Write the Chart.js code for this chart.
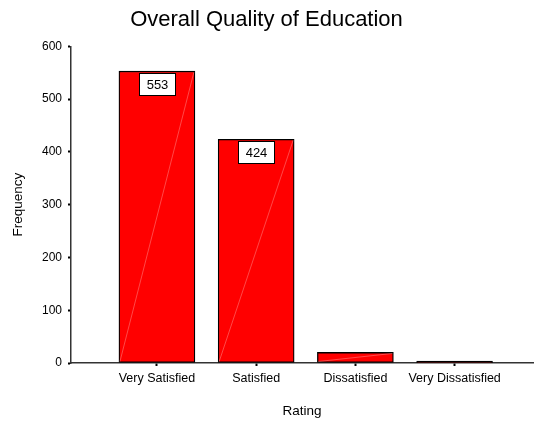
<!DOCTYPE html>
<html>
<head>
<meta charset="utf-8">
<script src="https://cdn.jsdelivr.net/npm/chart.js@4"></script>
<style>
  html, body { margin: 0; padding: 0; background: #fff; }
  #wrap { width: 535px; height: 428px; }
</style>
</head>
<body>
<div id="wrap"><canvas id="barChart"></canvas></div>
<script>
// data
const categories = ['Very Satisfied', 'Satisfied', 'Dissatisfied', 'Very Dissatisfied'];
const frequencies = [553, 424, 20, 2];
const labelledBars = [0, 1];   // bars that get a value box
const yTicks = [0, 100, 200, 300, 400, 500, 600];

const FONT = 'Arial, "Liberation Sans", sans-serif';

// white value boxes + the faint diagonal SPSS leaves in each bar
const barDecor = {
  id: 'barDecor',
  afterDatasetsDraw(chart) {
    const ctx = chart.ctx;
    const meta = chart.getDatasetMeta(0);
    ctx.save();
    meta.data.forEach((bar, i) => {
      const left = bar.x - bar.width / 2;
      const right = bar.x + bar.width / 2;
      if (bar.base - bar.y > 4) {
        ctx.strokeStyle = 'rgba(255,205,205,0.7)';
        ctx.lineWidth = 0.5;
        ctx.beginPath();
        ctx.moveTo(left + 1, bar.base - 1);
        ctx.lineTo(right - 1, bar.y + 1);
        ctx.stroke();
      } else {
        // very short bar: only its outline shows
        ctx.fillStyle = '#000';
        ctx.fillRect(left, bar.y - 1, bar.width, bar.base - bar.y + 1);
      }
      if (labelledBars.includes(i)) {
        const w = 36, h = 22;
        const bx = Math.round(bar.x - w / 2) + 0.5;
        const by = Math.round(bar.y + 2) + 0.5;
        ctx.fillStyle = '#fff';
        ctx.fillRect(bx, by, w, h);
        ctx.strokeStyle = '#000';
        ctx.lineWidth = 1;
        ctx.strokeRect(bx, by, w, h);
        ctx.fillStyle = '#000';
        ctx.font = '13px ' + FONT;
        ctx.textAlign = 'center';
        ctx.textBaseline = 'middle';
        ctx.fillText(String(frequencies[i]), bx + w / 2, by + h / 2 + 1);
      }
    });
    ctx.restore();
  }
};

new Chart(document.getElementById('barChart').getContext('2d'), {
  type: 'bar',
  data: {
    datasets: [{
      data: frequencies.map((v, i) => ({ x: i, y: v })),
      backgroundColor: '#ff0000',
      borderColor: '#000000',
      borderWidth: 1.3,
      borderSkipped: false,
      barThickness: 76
    }]
  },
  options: {
    responsive: true,
    maintainAspectRatio: false,
    animation: false,
    layout: { padding: { top: 0, right: 2, bottom: 9, left: 0 } },
    plugins: {
      legend: { display: false },
      tooltip: { enabled: false },
      title: {
        display: true,
        text: 'Overall Quality of Education',
        color: '#000',
        font: { family: FONT, size: 22, weight: 'normal' },
        padding: { top: 7, bottom: 13 }
      }
    },
    scales: {
      x: {
        type: 'linear',
        offset: false,
        min: -0.866,
        max: 3.79,
        afterBuildTicks: scale => {
          scale.ticks = categories.map((c, i) => ({ value: i }));
        },
        afterFit: scale => { scale.height = 56; },
        ticks: {
          color: '#000',
          font: { family: FONT, size: 12.5 },
          padding: 5,
          maxRotation: 0,
          autoSkip: false,
          callback: v => categories[v] || ''
        },
        grid: {
          display: true,
          offset: false,
          drawOnChartArea: false,
          drawTicks: true,
          tickLength: 3,
          tickWidth: 2,
          tickColor: '#000'
        },
        border: { display: true, color: '#333', width: 1.5 },
        title: {
          display: true,
          text: 'Rating',
          color: '#000',
          font: { family: FONT, size: 13.5 },
          padding: { top: 4, bottom: 0 }
        }
      },
      y: {
        min: 0,
        max: 600,
        afterBuildTicks: scale => {
          scale.ticks = yTicks.map(v => ({ value: v }));
        },
        afterFit: scale => { scale.width = 71; },
        ticks: {
          color: '#000',
          font: { family: FONT, size: 12 },
          padding: 6
        },
        grid: {
          display: true,
          drawOnChartArea: false,
          drawTicks: true,
          tickLength: 3,
          tickWidth: 2,
          tickColor: '#000'
        },
        border: { display: true, color: '#333', width: 1.5 },
        title: {
          display: true,
          text: 'Frequency',
          color: '#000',
          font: { family: FONT, size: 13.5 },
          padding: { top: 10, bottom: 0 }
        }
      }
    }
  },
  plugins: [barDecor]
});
</script>
</body>
</html>
